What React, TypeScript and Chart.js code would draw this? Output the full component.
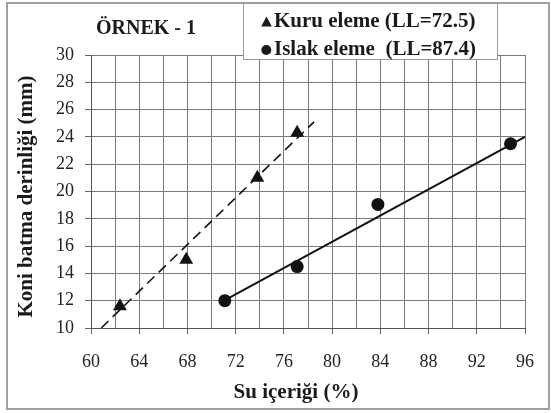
import React, { useEffect, useRef } from "react";
import { Chart, registerables } from "chart.js";

Chart.register(...registerables);

// ---- data ----
const kuruX = [62.4, 67.9, 73.8, 77.1];
const kuruY = [11.6, 15.0, 21.0, 24.3];
const islakX = [71.1, 77.1, 83.8, 94.8];
const islakY = [12.0, 14.5, 19.05, 23.5];
// fitted lines (end points)
const kuruFitX = [60.85, 78.5];
const kuruFitY = [10, 25.1];
const islakFitX = [71.07, 96];
const islakFitY = [12.03, 24.0];

const xMin = 60, xMax = 96, xStep = 2, xLabelStep = 4;
const yMin = 10, yMax = 30, yStep = 2;

const chartTitle = "ÖRNEK - 1";
const legendKuru = "Kuru eleme (LL=72.5)";
const legendIslak = "Islak eleme  (LL=87.4)";
const xTitle = "Su içeriği (%)";
const yTitle = "Koni batma derinliği (mm)";

const SERIF = '"Liberation Serif", "Times New Roman", Times, serif';
const INK = "#1a1a1a";

const toPts = (xs: number[], ys: number[]) => xs.map((x, i) => ({ x, y: ys[i] }));

const decorPlugin = {
  id: "decor",
  beforeDraw(chart: any) {
    const ctx = chart.ctx;
    ctx.save();
    ctx.fillStyle = "#ffffff";
    ctx.fillRect(0, 0, chart.width, chart.height);
    ctx.restore();
  },
  afterDraw(chart: any) {
    const ctx = chart.ctx;
    ctx.save();
    // outer frame
    ctx.strokeStyle = "#a0a0a0";
    ctx.lineWidth = 2;
    ctx.strokeRect(7, 3, 542, 406);

    // title
    ctx.fillStyle = INK;
    ctx.font = `bold 20px ${SERIF}`;
    ctx.textAlign = "left";
    ctx.textBaseline = "alphabetic";
    ctx.fillText(chartTitle, 96, 34);

    // legend box
    ctx.fillStyle = "#ffffff";
    ctx.fillRect(243, 3, 254, 56);
    ctx.strokeStyle = "#9a9a9a";
    ctx.lineWidth = 1;
    ctx.strokeRect(243.5, 3.5, 254, 56);

    ctx.fillStyle = INK;
    // triangle marker
    ctx.beginPath();
    ctx.moveTo(266.5, 16.5);
    ctx.lineTo(271.8, 26.5);
    ctx.lineTo(261.2, 26.5);
    ctx.closePath();
    ctx.fill();
    // circle marker
    ctx.beginPath();
    ctx.arc(266.3, 50, 5, 0, Math.PI * 2);
    ctx.fill();

    ctx.font = `bold 21px ${SERIF}`;
    ctx.textAlign = "left";
    ctx.fillText(legendKuru, 274, 27);
    ctx.fillText(legendIslak, 274, 55);

    // x title
    ctx.font = `bold 21px ${SERIF}`;
    ctx.textAlign = "center";
    ctx.fillText(xTitle, 296, 398);

    // y title
    ctx.translate(31.5, 196.5);
    ctx.rotate(-Math.PI / 2);
    ctx.textAlign = "center";
    ctx.fillText(yTitle, 0, 0);
    ctx.restore();
  },
};

export default function App() {
  const ref = useRef<HTMLCanvasElement | null>(null);

  useEffect(() => {
    document.body.style.margin = "0";
    const canvas = ref.current;
    if (!canvas) return;
    const chart = new Chart(canvas, {
      type: "scatter",
      data: {
        datasets: [
          {
            label: legendKuru,
            data: toPts(kuruX, kuruY),
            pointStyle: "triangle",
            pointRadius: 8,
            pointBackgroundColor: "#111",
            pointBorderColor: "#111",
            pointBorderWidth: 0,
            showLine: false,
          },
          {
            label: legendIslak,
            data: toPts(islakX, islakY),
            pointStyle: "circle",
            pointRadius: 6.5,
            pointBackgroundColor: "#111",
            pointBorderColor: "#111",
            pointBorderWidth: 0,
            showLine: false,
          },
          {
            label: "Kuru fit",
            data: toPts(kuruFitX, kuruFitY),
            showLine: true,
            borderColor: "#111",
            borderWidth: 1.6,
            borderDash: [10, 6],
            pointRadius: 0,
            fill: false,
          },
          {
            label: "Islak fit",
            data: toPts(islakFitX, islakFitY),
            showLine: true,
            borderColor: "#111",
            borderWidth: 2,
            pointRadius: 0,
            fill: false,
          },
        ],
      },
      options: {
        responsive: false,
        animation: false,
        devicePixelRatio: 1,
        layout: { padding: { left: 0, top: 55, right: 15, bottom: 0 } },
        plugins: {
          legend: { display: false },
          title: { display: false },
          tooltip: { enabled: false },
        },
        scales: {
          x: {
            type: "linear",
            min: xMin,
            max: xMax,
            afterFit: (s: any) => {
              s.height = 85;
            },
            ticks: {
              stepSize: xStep,
              autoSkip: false,
              maxRotation: 0,
              padding: 17,
              color: "#222",
              font: { family: SERIF, size: 18 },
              callback: (v: any) => (Number(v) % xLabelStep === 0 ? String(v) : ""),
            },
            grid: {
              color: "#7a7a7a",
              lineWidth: 1,
              tickLength: 6,
              tickColor: (c: any) =>
                c.tick && Number(c.tick.value) % xLabelStep === 0 ? "#666" : "rgba(0,0,0,0)",
            },
            border: { display: true, color: "#555", width: 1 },
          },
          y: {
            type: "linear",
            min: yMin,
            max: yMax,
            afterFit: (s: any) => {
              s.width = 91;
            },
            ticks: {
              stepSize: yStep,
              padding: 11,
              color: "#222",
              font: { family: SERIF, size: 18 },
            },
            grid: {
              color: "#7a7a7a",
              lineWidth: 1,
              tickLength: 6,
              tickColor: "#666",
            },
            border: { display: true, color: "#555", width: 1 },
          },
        },
      },
      plugins: [decorPlugin],
    });
    return () => chart.destroy();
  }, []);

  return (
    <div style={{ width: 551, height: 413, position: "relative" }}>
      <canvas ref={ref} width={551} height={413} style={{ display: "block" }} />
    </div>
  );
}
